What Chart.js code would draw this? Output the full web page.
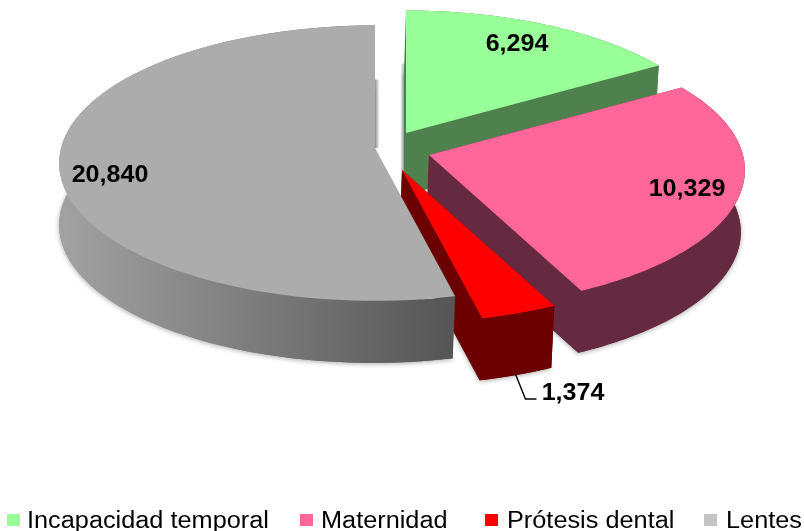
<!DOCTYPE html>
<html>
<head>
    <title>Pie 3D</title>
    <script src="https://cdn.jsdelivr.net/npm/chart.js@4"></script>
    <style>
        body { margin: 0; padding: 0; background: white; overflow: hidden; }
        canvas { display: block; }
    </style>
</head>
<body>
    <canvas id="myChart" width="804" height="531"></canvas>
    <script>
        const categorias = ["Incapacidad temporal", "Maternidad", "Prótesis dental", "Lentes"];
        const valores = [6294, 10329, 1374, 20840];
        const etiquetas = ["6,294", "10,329", "1,374", "20,840"];

        // Colores
        const colorLeyenda = ["#99ff99", "#ff6699", "#ff0000", "#c4c4c4"];
        const colorTapa = ["#99ff99", "#ff6699", "#ff0000", "#acacac"];
        const colorPared = [["#4f814f", "#4f814f"], ["#652a3f", "#652a3f"], ["#6c0000", "#6c0000"], ["#a2a2a2", "#555555"]];

        // Separacion de cada rebanada respecto al centro (px)
        const separacion = [[6, -17], [29, 5], [2, 20], [-25, -2]];
        const posEtiqueta = [[117, -106], [287, 39], [173, 243], [-290, 25]];
        // Leyenda: x de la caja y del texto de cada entrada
        const cajaLeyenda = [7, 300, 485, 704];
        const textoLeyenda = [27, 321, 507, 726];

        const escalaX = 314, escalaY = 136, fuga = 0.11, grosor = 62, inclinacion = 0.006;

        // Proyeccion con perspectiva de un punto del plano del pastel
        function proyectar(angulo, r) {
            const v = Math.sin(angulo) * r;
            const s = 1 / (1 - fuga * v);
            return [Math.cos(angulo) * r * escalaX * s, v * escalaY * s];
        }

        function abajo(p) {
            return [p[0] - (p[0] - 60) * inclinacion, p[1] + grosor];
        }

        function trazar(ctx, puntos) {
            ctx.beginPath();
            puntos.forEach((p, i) => i ? ctx.lineTo(p[0], p[1]) : ctx.moveTo(p[0], p[1]));
            ctx.closePath();
        }

        // Texto algo ensanchado, como en el original
        function texto(ctx, txt, x, y, ancho) {
            ctx.save();
            ctx.translate(x, y);
            ctx.scale(ancho, 1);
            ctx.fillText(txt, 0, 0);
            ctx.restore();
        }

        // Banda gris del corte trasero
        function banda(ctx, x0, x1, y0, y1) {
            const g = ctx.createLinearGradient(x0, 0, x1, 0);
            g.addColorStop(0, 'rgba(150,150,150,0.15)');
            g.addColorStop(1, 'rgba(150,150,150,1)');
            ctx.fillStyle = g;
            ctx.fillRect(Math.min(x0, x1), y0, Math.abs(x1 - x0), y1 - y0);
        }

        const pastel3D = {
            id: 'pastel3D',
            beforeDatasetsDraw(chart) {
                const ctx = chart.ctx;
                const arcos = chart.getDatasetMeta(0).data;
                const cx = arcos[0].x - 2, cy = 150;

                arcos.forEach((arco, i) => {
                    const ax = cx + separacion[i][0], ay = cy + separacion[i][1];
                    const borde = [];
                    const pasos = 80;
                    for (let k = 0; k <= pasos; k++) {
                        const ang = arco.startAngle + (arco.endAngle - arco.startAngle) * k / pasos;
                        const p = proyectar(ang, 1);
                        borde.push([ax + p[0], ay + p[1]]);
                    }
                    const apice = [ax, ay];
                    const tapa = [apice, ...borde];
                    const base = tapa.map(abajo);

                    let xs = borde.map(p => p[0]);
                    const gr = ctx.createLinearGradient(Math.min(...xs), 0, Math.max(...xs), 0);
                    gr.addColorStop(0, colorPared[i][0]);
                    gr.addColorStop(1, colorPared[i][1]);

                    if (i === 0) banda(ctx, ax - 5, ax, borde[0][1] + 53, ay + 38);
                    if (i === 3) banda(ctx, ax + 4, ax, borde[pasos][1] + 54, ay);

                    ctx.save();
                    ctx.fillStyle = gr;
                    ctx.shadowColor = 'rgba(0,0,0,0.35)';
                    ctx.shadowBlur = 5;
                    ctx.shadowOffsetY = 1;
                    trazar(ctx, base);
                    ctx.fill();
                    ctx.restore();

                    ctx.fillStyle = gr;
                    // pared exterior
                    trazar(ctx, [...borde, ...borde.map(abajo).reverse()]);
                    ctx.fill();
                    // paredes de corte (la ultima rebanada las tiene ocultas)
                    if (i < arcos.length - 1) {
                        trazar(ctx, [apice, borde[pasos], abajo(borde[pasos]), abajo(apice)]);
                        ctx.fill();
                        if (i > 0) {
                            trazar(ctx, [apice, borde[0], abajo(borde[0]), abajo(apice)]);
                            ctx.fill();
                        }
                    }

                    ctx.fillStyle = colorTapa[i];
                    trazar(ctx, tapa);
                    ctx.fill();
                });

                // Etiquetas
                ctx.fillStyle = '#000';
                ctx.font = 'bold 23px "Liberation Sans", Arial, sans-serif';
                ctx.textAlign = 'center';
                ctx.textBaseline = 'middle';
                etiquetas.forEach((txt, i) => {
                    texto(ctx, txt, cx + posEtiqueta[i][0], cy + posEtiqueta[i][1] + 1, 1.09);
                });

                // Linea guia de la rebanada pequena
                const rojo = arcos[2];
                const medio = (rojo.startAngle + rojo.endAngle) / 2;
                const m = proyectar(medio, 1);
                const ini = abajo([cx + separacion[2][0] + m[0], cy + separacion[2][1] + m[1]]);
                ctx.strokeStyle = '#000';
                ctx.lineWidth = 1.4;
                ctx.beginPath();
                ctx.moveTo(ini[0] - 1, ini[1] - 1);
                ctx.lineTo(ini[0] + 9, ini[1] + 24);
                ctx.lineTo(ini[0] + 20, ini[1] + 24);
                ctx.stroke();

                return false;
            },
            afterDraw(chart) {
                const ctx = chart.ctx;
                ctx.save();
                ctx.font = '23px "Liberation Sans", Arial, sans-serif';
                ctx.textAlign = 'left';
                ctx.textBaseline = 'alphabetic';
                categorias.forEach((txt, i) => {
                    ctx.fillStyle = colorLeyenda[i];
                    ctx.fillRect(cajaLeyenda[i], 514, 13, 12);
                    ctx.fillStyle = '#000';
                    texto(ctx, txt, textoLeyenda[i], 528, 1.1);
                });
                ctx.restore();
            }
        };

        new Chart(document.getElementById('myChart').getContext('2d'), {
            type: 'pie',
            data: {
                labels: categorias,
                datasets: [{ data: valores, backgroundColor: colorLeyenda, borderWidth: 0 }]
            },
            options: {
                responsive: false,
                animation: false,
                plugins: {
                    legend: { display: false },
                    tooltip: { enabled: false }
                }
            },
            plugins: [pastel3D]
        });
    </script>
</body>
</html>
